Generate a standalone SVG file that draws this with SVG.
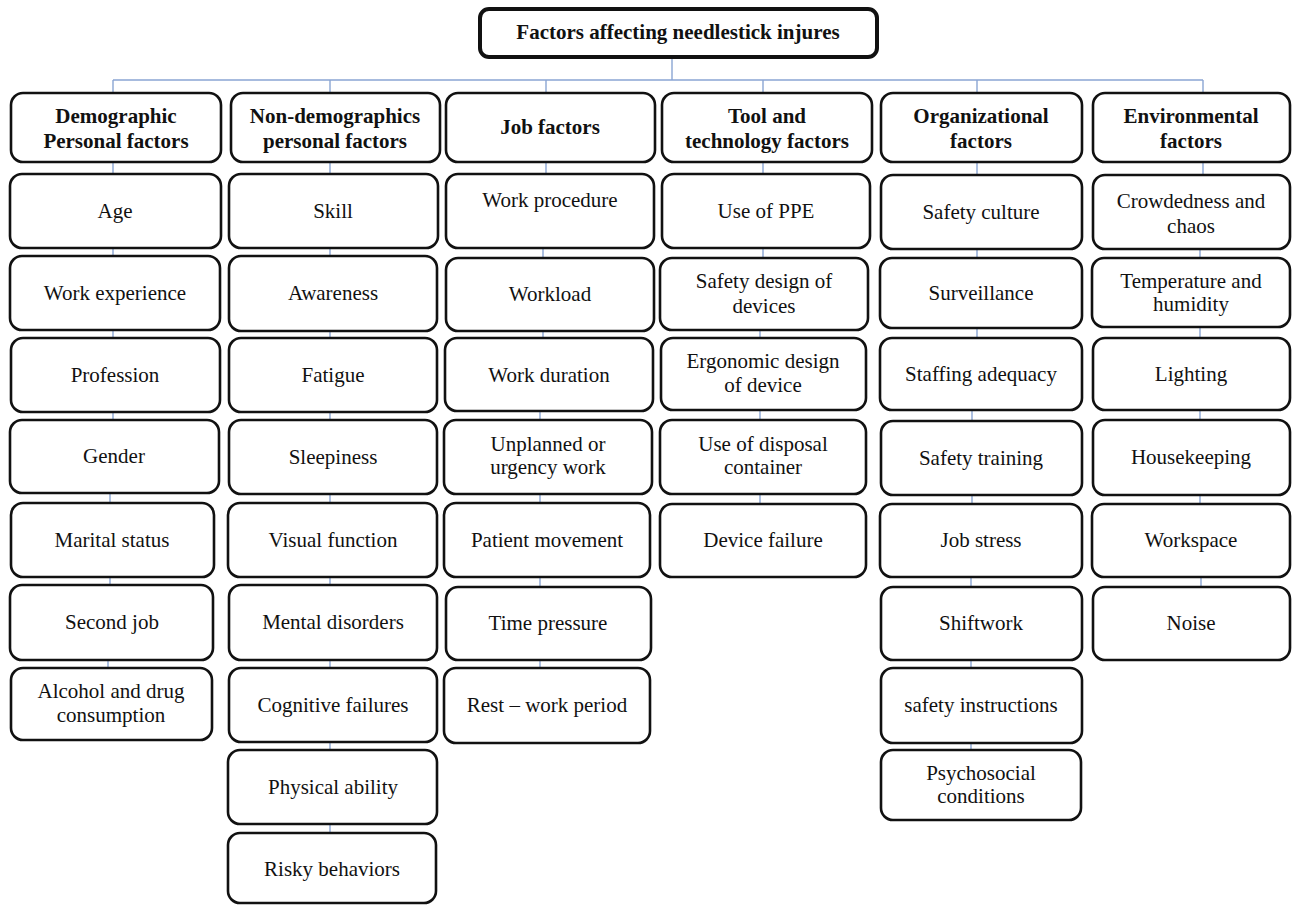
<svg xmlns="http://www.w3.org/2000/svg" width="1292" height="905" viewBox="0 0 1292 905">
<style>
.bx{fill:#fff;stroke:#111;stroke-width:2.6}
.tb{fill:#fff;stroke:#111;stroke-width:4}
.t{font-family:"Liberation Serif","Times New Roman",serif;font-size:21px;fill:#111;text-anchor:middle}
.h{font-weight:bold}
.cn{stroke:#8aa5d3;stroke-width:1.4;fill:none}
</style>
<rect width="1292" height="905" fill="#fff"/>
<g id="connectors">
<line class="cn" x1="672" y1="57" x2="672" y2="80"/>
<line class="cn" x1="113" y1="80" x2="1203" y2="80"/>
<line class="cn" x1="113" y1="80" x2="113" y2="93"/>
<line class="cn" x1="330" y1="80" x2="330" y2="93"/>
<line class="cn" x1="546" y1="80" x2="546" y2="93"/>
<line class="cn" x1="763" y1="80" x2="763" y2="93"/>
<line class="cn" x1="977" y1="80" x2="977" y2="93"/>
<line class="cn" x1="1203" y1="80" x2="1203" y2="93"/>
<path class="cn" d="M113 162V174M113 248V256M113 330V338M113 412V420M110 493V503M110 577V585M108 660V668"/>
<path class="cn" d="M330 162V174M330 248V256M330 331V338M330 412V420M330 494V503M330 577V585M330 660V668M330 742V750M330 824V833"/>
<path class="cn" d="M546 162V174M543 248V258M543 331V338M540 411V420M540 494V503M540 577V587M540 660V668"/>
<path class="cn" d="M763 162V174M763 248V258M760 330V338M760 410V420M760 494V504"/>
<path class="cn" d="M977 162V175M977 249V258M977 328V338M972 410V421M972 495V504M971 577V587M971 660V668M971 743V750"/>
<path class="cn" d="M1203 162V175M1200 249V258M1200 327V338M1200 410V420M1200 495V504M1201 577V587"/>
</g>
<g id="title">
<rect class="tb" x="480" y="9" width="397" height="48" rx="9"/>
<text class="t h" x="678" y="39">Factors affecting needlestick injures</text>
</g>
<g id="col1">
<g id="h1"><rect class="bx" x="11" y="93" width="210" height="69" rx="12"/><text class="t h" x="116" y="123">Demographic</text><text class="t h" x="116" y="148">Personal factors</text></g>
<g id="age"><rect class="bx" x="10" y="174" width="211" height="74" rx="12"/><text class="t" x="115" y="218">Age</text></g>
<g id="workexp"><rect class="bx" x="10" y="256" width="210" height="74" rx="12"/><text class="t" x="115" y="300">Work experience</text></g>
<g id="profession"><rect class="bx" x="11" y="338" width="209" height="74" rx="12"/><text class="t" x="115" y="382">Profession</text></g>
<g id="gender"><rect class="bx" x="10" y="420" width="209" height="73" rx="12"/><text class="t" x="114" y="463">Gender</text></g>
<g id="marital"><rect class="bx" x="11" y="503" width="203" height="74" rx="12"/><text class="t" x="112" y="547">Marital status</text></g>
<g id="secondjob"><rect class="bx" x="10" y="585" width="203" height="75" rx="12"/><text class="t" x="112" y="629">Second job</text></g>
<g id="alcohol"><rect class="bx" x="11" y="668" width="201" height="72" rx="12"/><text class="t" x="111" y="698">Alcohol and drug</text><text class="t" x="111" y="722">consumption</text></g>
</g>
<g id="col2">
<g id="h2"><rect class="bx" x="231" y="93" width="209" height="69" rx="12"/><text class="t h" x="335" y="123">Non-demographics</text><text class="t h" x="335" y="148">personal factors</text></g>
<g id="skill"><rect class="bx" x="229" y="174" width="209" height="74" rx="12"/><text class="t" x="333" y="218">Skill</text></g>
<g id="awareness"><rect class="bx" x="229" y="256" width="208" height="75" rx="12"/><text class="t" x="333" y="300">Awareness</text></g>
<g id="fatigue"><rect class="bx" x="229" y="338" width="208" height="74" rx="12"/><text class="t" x="333" y="382">Fatigue</text></g>
<g id="sleepiness"><rect class="bx" x="229" y="420" width="208" height="74" rx="12"/><text class="t" x="333" y="464">Sleepiness</text></g>
<g id="visual"><rect class="bx" x="228" y="503" width="209" height="74" rx="12"/><text class="t" x="333" y="547">Visual function</text></g>
<g id="mental"><rect class="bx" x="229" y="585" width="208" height="75" rx="12"/><text class="t" x="333" y="629">Mental disorders</text></g>
<g id="cognitive"><rect class="bx" x="229" y="668" width="208" height="74" rx="12"/><text class="t" x="333" y="712">Cognitive failures</text></g>
<g id="physical"><rect class="bx" x="228" y="750" width="209" height="74" rx="12"/><text class="t" x="333" y="794">Physical ability</text></g>
<g id="risky"><rect class="bx" x="228" y="833" width="208" height="70" rx="12"/><text class="t" x="332" y="876">Risky behaviors</text></g>
</g>
<g id="col3">
<g id="h3"><rect class="bx" x="446" y="93" width="209" height="69" rx="12"/><text class="t h" x="550" y="134">Job factors</text></g>
<g id="workproc"><rect class="bx" x="446" y="174" width="208" height="74" rx="12"/><text class="t" x="550" y="207">Work procedure</text></g>
<g id="workload"><rect class="bx" x="446" y="258" width="208" height="73" rx="12"/><text class="t" x="550" y="301">Workload</text></g>
<g id="workdur"><rect class="bx" x="445" y="338" width="208" height="73" rx="12"/><text class="t" x="549" y="382">Work duration</text></g>
<g id="unplanned"><rect class="bx" x="444" y="420" width="208" height="74" rx="12"/><text class="t" x="548" y="451">Unplanned or</text><text class="t" x="548" y="474">urgency work</text></g>
<g id="patient"><rect class="bx" x="444" y="503" width="206" height="74" rx="12"/><text class="t" x="547" y="547">Patient movement</text></g>
<g id="timepress"><rect class="bx" x="446" y="587" width="205" height="73" rx="12"/><text class="t" x="548" y="630">Time pressure</text></g>
<g id="rest"><rect class="bx" x="444" y="668" width="206" height="75" rx="12"/><text class="t" x="547" y="712">Rest – work period</text></g>
</g>
<g id="col4">
<g id="h4"><rect class="bx" x="662" y="93" width="210" height="69" rx="12"/><text class="t h" x="767" y="123">Tool and</text><text class="t h" x="767" y="148">technology factors</text></g>
<g id="ppe"><rect class="bx" x="662" y="174" width="208" height="74" rx="12"/><text class="t" x="766" y="218">Use of PPE</text></g>
<g id="safetydesign"><rect class="bx" x="660" y="258" width="208" height="72" rx="12"/><text class="t" x="764" y="288">Safety design of</text><text class="t" x="764" y="313">devices</text></g>
<g id="ergonomic"><rect class="bx" x="661" y="338" width="205" height="72" rx="12"/><text class="t" x="763" y="368">Ergonomic design</text><text class="t" x="763" y="392">of device</text></g>
<g id="disposal"><rect class="bx" x="660" y="420" width="206" height="74" rx="12"/><text class="t" x="763" y="451">Use of disposal</text><text class="t" x="763" y="474">container</text></g>
<g id="devfail"><rect class="bx" x="660" y="504" width="206" height="73" rx="12"/><text class="t" x="763" y="547">Device failure</text></g>
</g>
<g id="col5">
<g id="h5"><rect class="bx" x="881" y="93" width="201" height="69" rx="12"/><text class="t h" x="981" y="123">Organizational</text><text class="t h" x="981" y="148">factors</text></g>
<g id="safetyculture"><rect class="bx" x="881" y="175" width="201" height="74" rx="12"/><text class="t" x="981" y="219">Safety culture</text></g>
<g id="surveillance"><rect class="bx" x="880" y="258" width="202" height="70" rx="12"/><text class="t" x="981" y="300">Surveillance</text></g>
<g id="staffing"><rect class="bx" x="880" y="338" width="202" height="72" rx="12"/><text class="t" x="981" y="381">Staffing adequacy</text></g>
<g id="training"><rect class="bx" x="881" y="421" width="201" height="74" rx="12"/><text class="t" x="981" y="465">Safety training</text></g>
<g id="jobstress"><rect class="bx" x="880" y="504" width="202" height="73" rx="12"/><text class="t" x="981" y="547">Job stress</text></g>
<g id="shiftwork"><rect class="bx" x="881" y="587" width="201" height="73" rx="12"/><text class="t" x="981" y="630">Shiftwork</text></g>
<g id="instructions"><rect class="bx" x="881" y="668" width="201" height="75" rx="12"/><text class="t" x="981" y="712">safety instructions</text></g>
<g id="psychosocial"><rect class="bx" x="881" y="750" width="200" height="70" rx="12"/><text class="t" x="981" y="780">Psychosocial</text><text class="t" x="981" y="803">conditions</text></g>
</g>
<g id="col6">
<g id="h6"><rect class="bx" x="1093" y="93" width="197" height="69" rx="12"/><text class="t h" x="1191" y="123">Environmental</text><text class="t h" x="1191" y="148">factors</text></g>
<g id="crowd"><rect class="bx" x="1093" y="175" width="197" height="74" rx="12"/><text class="t" x="1191" y="208">Crowdedness and</text><text class="t" x="1191" y="233">chaos</text></g>
<g id="temp"><rect class="bx" x="1092" y="258" width="198" height="69" rx="12"/><text class="t" x="1191" y="288">Temperature and</text><text class="t" x="1191" y="311">humidity</text></g>
<g id="lighting"><rect class="bx" x="1093" y="338" width="197" height="72" rx="12"/><text class="t" x="1191" y="381">Lighting</text></g>
<g id="housekeeping"><rect class="bx" x="1093" y="420" width="197" height="75" rx="12"/><text class="t" x="1191" y="464">Housekeeping</text></g>
<g id="workspace"><rect class="bx" x="1092" y="504" width="198" height="73" rx="12"/><text class="t" x="1191" y="547">Workspace</text></g>
<g id="noise"><rect class="bx" x="1093" y="587" width="197" height="73" rx="12"/><text class="t" x="1191" y="630">Noise</text></g>
</g>
</svg>
